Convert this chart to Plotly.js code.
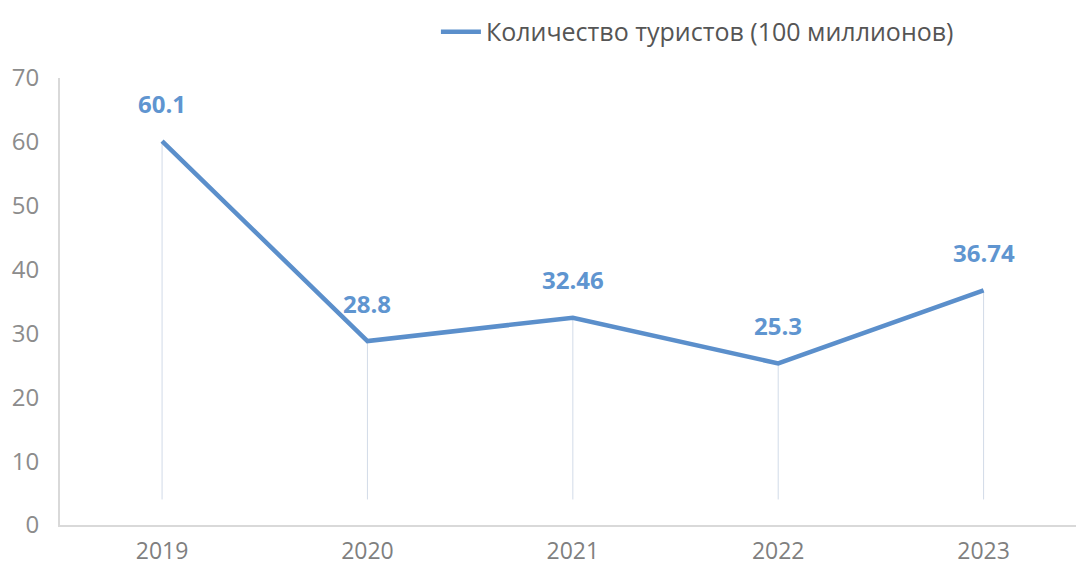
<!DOCTYPE html>
<html><head><meta charset="utf-8">
<script src="https://cdn.plot.ly/plotly-3.0.1.min.js"></script>
<style>html,body{margin:0;padding:0;background:#fff}#chart{width:1076px;height:567px}</style>
</head><body><div id="chart"></div>
<script>
const years = ['2019','2020','2021','2022','2023'];
const tourists = [60.1, 28.8, 32.46, 25.3, 36.74];
const labels = ['60.1','28.8','32.46','25.3','36.74'];
const seriesName = 'Количество туристов (100 миллионов)';
const yTicks = [0,10,20,30,40,50,60,70];

const lineColor = '#5b8fcb';
const traces = [
  {
    x: years, y: tourists, type: 'scatter', mode: 'none', showlegend: false, hoverinfo: 'skip',
    error_y: {type: 'data', symmetric: false, array: tourists.map(() => 0), arrayminus: tourists.map(v => v - 4),
      color: 'rgba(205,215,230,0.9)', thickness: 1, width: 0}
  },
  {
    x: years, y: tourists, type: 'scatter', mode: 'lines', name: seriesName,
    line: {color: lineColor, width: 4.5}
  }
];
const annotations = years.map((yr, i) => ({
  x: i, y: tourists[i], xref: 'x', yref: 'y', text: '<b>' + labels[i] + '</b>', showarrow: false,
  yshift: 38, yanchor: 'middle', xanchor: 'center',
  font: {family: 'Open Sans, sans-serif', size: 24, color: '#5f95d0'}
}));
const layout = {
  width: 1076, height: 567,
  margin: {l: 60, r: 0, t: 78, b: 42},
  paper_bgcolor: '#fff', plot_bgcolor: '#fff',
  font: {family: 'Open Sans, sans-serif'},
  xaxis: {type: 'category', range: [-0.497, 4.45], showgrid: false, zeroline: false,
    showline: true, linecolor: '#d9d9d9', linewidth: 2, ticks: '', ticklabelstandoff: 4,
    tickfont: {size: 23, color: '#7f7f7f'}},
  yaxis: {range: [0, 70], tickvals: yTicks, showgrid: false, zeroline: false,
    showline: true, linecolor: '#d9d9d9', linewidth: 2, ticks: '', ticklabelstandoff: 14,
    tickfont: {size: 24, color: '#8c8c8c'}},
  showlegend: true,
  legend: {orientation: 'h', x: 0.37, xanchor: 'left', y: 1.103, yanchor: 'middle',
    font: {size: 25, color: '#555'}, itemwidth: 40},
  annotations: annotations
};
Plotly.newPlot('chart', traces, layout, {displayModeBar: false, staticPlot: true});
</script></body></html>
